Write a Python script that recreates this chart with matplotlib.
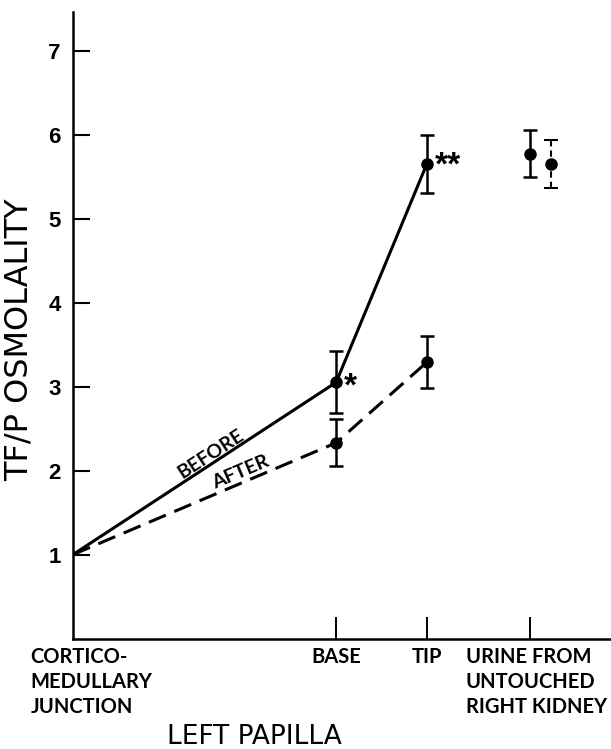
import numpy as np
import matplotlib
matplotlib.use("Agg")
import matplotlib.pyplot as plt

# sites along the papilla (x positions are the plot's own spacing)
site_labels = ["CORTICO-\nMEDULLARY\nJUNCTION", "BASE", "TIP", "URINE FROM\nUNTOUCHED\nRIGHT KIDNEY"]
site_pos = [0.0, 2.9, 3.9, 5.04]

before_x = [0.0, 2.9, 3.9]
before_y = [1.0, 3.05, 5.65]
before_err = [0.0, 0.37, 0.35]

after_x = [0.0, 2.9, 3.9]
after_y = [1.0, 2.33, 3.29]
after_err = [0.0, 0.28, 0.31]

urine_x = [5.04, 5.27]
urine_y = [5.77, 5.65]
urine_err = [0.28, 0.29]

lab_font = "Lato"

fig = plt.figure(figsize=(6.11, 7.49), dpi=100)
ax = fig.add_axes([0.1195, 0.1475, 0.8805, 0.8365])

lw = 2.2
ax.plot(before_x, before_y, color="black", lw=lw)
ln, = ax.plot(after_x, after_y, color="black", lw=lw)
ln.set_dashes((6, 3))

# error bars (skip the fixed point at the junction)
ax.errorbar(before_x[1:], before_y[1:], yerr=before_err[1:], fmt="o", color="black",
            ms=8, elinewidth=1.8, capsize=5, capthick=1.8)
ax.errorbar(after_x[1:], after_y[1:], yerr=after_err[1:], fmt="o", color="black",
            ms=8, elinewidth=1.8, capsize=5, capthick=1.8)
ax.errorbar(urine_x[:1], urine_y[:1], yerr=urine_err[:1], fmt="o", color="black",
            ms=8, elinewidth=1.8, capsize=5, capthick=1.8)
eb = ax.errorbar(urine_x[1:], urine_y[1:], yerr=urine_err[1:], fmt="o", color="black",
                 ms=8, elinewidth=1.5, capsize=5, capthick=1.5)
eb[2][0].set_linestyle((0, (3, 2)))

ax.text(2.99, before_y[1] - 0.05, "*", fontsize=24, fontweight="bold", va="center", ha="left",
        family="Liberation Sans")
ax.text(3.99, before_y[2] - 0.03, "**", fontsize=24, fontweight="bold", va="center", ha="left",
        family="Liberation Sans")

ax.text(1.52, 2.2, "BEFORE", rotation=33, rotation_mode="anchor", ha="center", va="center",
        fontsize=14, fontweight="bold", family=lab_font)
ax.text(1.85, 1.98, "AFTER", rotation=23, rotation_mode="anchor", ha="center", va="center",
        fontsize=14, fontweight="bold", family=lab_font)

ax.set_xlim(0, 5.93)
ax.set_ylim(0, 7.46)

ax.spines["top"].set_visible(False)
ax.spines["right"].set_visible(False)
ax.spines["left"].set_linewidth(1.8)
ax.spines["bottom"].set_linewidth(1.8)

ax.set_yticks(range(1, 8))
ax.tick_params(axis="y", direction="in", length=12, width=1.5, pad=9, labelsize=16)
for t in ax.get_yticklabels():
    t.set_family("Liberation Sans")
    t.set_fontweight("bold")

ax.set_xticks(site_pos[1:])
ax.set_xticklabels([])
ax.tick_params(axis="x", direction="in", length=16, width=1.4)

# category labels under the axis
ax.text(-0.47, -0.1, site_labels[0], ha="left", va="top", fontsize=14.5, linespacing=1.3,
        family=lab_font, fontweight="bold")
ax.text(site_pos[1], -0.1, site_labels[1], ha="center", va="top", fontsize=14.5,
        family=lab_font, fontweight="bold")
ax.text(site_pos[2], -0.1, site_labels[2], ha="center", va="top", fontsize=14.5,
        family=lab_font, fontweight="bold")
ax.text(4.33, -0.1, site_labels[3], ha="left", va="top", fontsize=14.5, linespacing=1.3,
        family=lab_font, fontweight="bold")

ax.text(2.0, -1.17, "LEFT PAPILLA", ha="center", va="center", fontsize=19, family="DejaVu Sans")
fig.text(0.031, 0.547, "TF/P OSMOLALITY", rotation=90, ha="center", va="center", fontsize=23,
         family="DejaVu Sans")

fig.savefig("out.png", dpi=100)
